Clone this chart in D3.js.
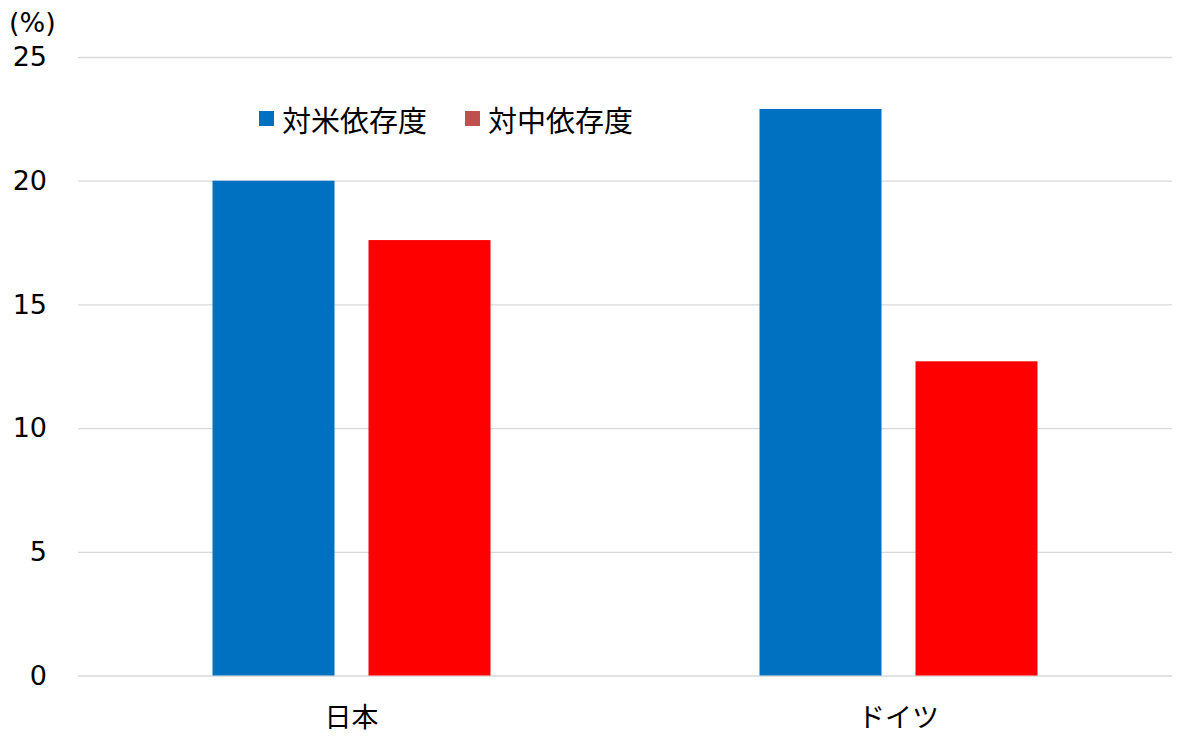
<!DOCTYPE html>
<html>
<head>
<meta charset="utf-8">
<script src="https://cdn.jsdelivr.net/npm/d3@7"></script>
<style>
  html, body { margin: 0; padding: 0; background: #fff; }
  #chart { width: 1200px; height: 747px; }
</style>
</head>
<body>
<div id="chart"></div>
<script>
// ---- data ----
const countries = ['日本', 'ドイツ'];
const seriesNames = ['対米依存度', '対中依存度'];
const usDependence = [20.0, 22.9];
const chinaDependence = [17.6, 12.7];
const yTicks = [0, 5, 10, 15, 20, 25];

(function () {
  const W = 1200, H = 747;
  const margin = { top: 57, right: 28, bottom: 72, left: 78 };
  const width = W - margin.left - margin.right;
  const height = H - margin.top - margin.bottom + 0.5;

  const COLORS = {
    bars: ['#0070C0', '#FF0000'],
    legend: ['#0070C0', '#C0504D'],
    grid: '#D9D9D9',
    text: '#000000',
  };
  const numFont = '"DejaVu Sans", Verdana, sans-serif';
  const cjkFont = '"Noto Sans CJK JP", "Noto Sans", sans-serif';

  const rows = countries.map((c, i) => ({
    country: c,
    values: [usDependence[i], chinaDependence[i]],
  }));

  const svg = d3.select('#chart').append('svg')
    .attr('width', W).attr('height', H)
    .attr('viewBox', `0 0 ${W} ${H}`);
  const g = svg.append('g').attr('transform', `translate(${margin.left},${margin.top})`);

  const y = d3.scaleLinear().domain([0, 25]).range([height, 0]);
  const x0 = d3.scaleBand().domain(countries).range([0, width]).padding(0);
  const groupW = 278;
  const x1 = d3.scaleBand().domain(d3.range(seriesNames.length))
    .range([(x0.bandwidth() - groupW) / 2, (x0.bandwidth() + groupW) / 2])
    .paddingInner(34 / 156).paddingOuter(0);

  // gridlines
  const grid = g.append('g').call(
    d3.axisLeft(y).tickValues(yTicks).tickSize(-width).tickFormat('')
  );
  grid.select('.domain').remove();
  grid.selectAll('line').attr('stroke', COLORS.grid).attr('stroke-width', 1.3);

  // bars
  g.append('g').selectAll('g')
    .data(rows).join('g')
    .attr('transform', d => `translate(${x0(d.country)},0)`)
    .selectAll('rect')
    .data(d => d.values.map((v, i) => ({ v, i })))
    .join('rect')
    .attr('x', d => x1(d.i))
    .attr('width', x1.bandwidth())
    .attr('y', d => y(d.v))
    .attr('height', d => y(0) - y(d.v))
    .attr('fill', d => COLORS.bars[d.i]);

  // y axis labels
  const yAxis = g.append('g').call(
    d3.axisLeft(y).tickValues(yTicks).tickSize(0).tickPadding(31).tickFormat(d3.format('d'))
  );
  yAxis.select('.domain').remove();
  yAxis.selectAll('text')
    .attr('fill', COLORS.text).attr('font-size', '27px').attr('font-family', numFont);

  // x axis labels
  const xAxis = g.append('g').attr('transform', `translate(0,${height})`)
    .call(d3.axisBottom(x0).tickSize(0).tickPadding(32));
  xAxis.select('.domain').remove();
  xAxis.selectAll('text')
    .attr('fill', COLORS.text).attr('font-size', '27px').attr('font-family', cjkFont);

  // unit label
  svg.append('text')
    .attr('x', 9).attr('y', 32)
    .attr('font-size', '27px').attr('font-family', numFont)
    .attr('fill', COLORS.text)
    .text('(%)');

  // legend
  const legendX = [259, 465];
  const legend = svg.append('g');
  seriesNames.forEach((name, i) => {
    legend.append('rect')
      .attr('x', legendX[i]).attr('y', 111)
      .attr('width', 15).attr('height', 15)
      .attr('fill', COLORS.legend[i]);
    legend.append('text')
      .attr('x', legendX[i] + 23).attr('y', 119)
      .attr('dominant-baseline', 'central')
      .attr('font-size', '29px').attr('font-family', cjkFont)
      .attr('fill', COLORS.text)
      .text(name);
  });
})();
</script>
</body>
</html>
